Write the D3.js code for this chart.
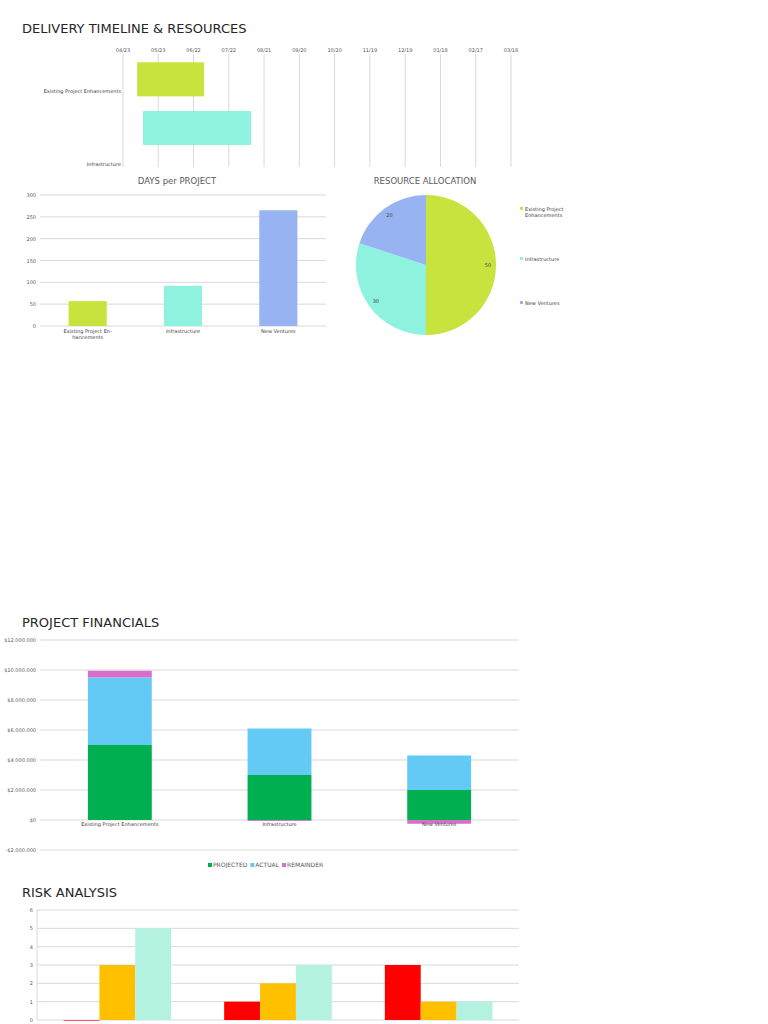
<!DOCTYPE html>
<html lang="en">
<head>
<meta charset="UTF-8">
<title>Delivery Timeline & Resources</title>
<script src="https://d3js.org/d3.v7.min.js"></script>
<style>
  body { margin: 0; background: #fff; font-family: "DejaVu Sans", sans-serif; }
  svg text { font-family: "DejaVu Sans", sans-serif; }
  .grid line { stroke: #d9d9d9; }
  .tick text { fill: #595959; font-size: 5px; }
  .hdr { font-size: 13px; fill: #262626; }
  .sub { font-size: 8.5px; fill: #595959; }
</style>
</head>
<body>
<svg id="page" width="768" height="1024"></svg>
<script>
// ---- data ----
const projects = ["Existing Project Enhancements", "Infrastructure", "New Ventures"];
const projColors = ["#c9e33e", "#8ff2de", "#97b3f2"];
const ganttStart = ["2023-05-05", "2023-05-10"];
const ganttEnd = ["2023-07-01", "2023-08-10"];
const ganttTicks = ["2023-04-23","2023-05-23","2023-06-22","2023-07-22","2023-08-21","2023-09-20",
                    "2023-10-20","2023-11-19","2023-12-19","2024-01-18","2024-02-17","2024-03-18"];
const days = [57, 92, 265];
const resources = [50, 30, 20];
const finSeries = ["PROJECTED", "ACTUAL", "REMAINDER"];
const finColors = ["#00b050", "#63caf5", "#d86ecc"];
const projected = [5000000, 3000000, 2000000];
const actual = [4500000, 3100000, 2300000];
const remainder = [450000, -60000, -250000];
const riskSeries = ["HIGH", "MEDIUM", "LOW"];
const riskColors = ["#ff0000", "#ffc000", "#b3f2e0"];
const riskHigh = [0, 1, 3];
const riskMed = [3, 2, 1];
const riskLow = [5, 3, 1];

const svg = d3.select("#page");
const fmtMoney = d => (d < 0 ? "-$" : "$") + d3.format(",")(Math.abs(d)).replace(/,/g, ".");

function hgrid(g, y, x0, x1, ticks, fmt) {
  g.append("g").attr("class", "grid").selectAll("line").data(ticks).join("line")
    .attr("x1", x0).attr("x2", x1).attr("y1", d => y(d)).attr("y2", d => y(d));
  g.append("g").attr("transform", `translate(${x0},0)`)
    .call(d3.axisLeft(y).tickValues(ticks).tickSize(0).tickPadding(4).tickFormat(fmt))
    .call(a => a.select(".domain").remove());
}

svg.append("text").attr("class", "hdr").attr("x", 22).attr("y", 33).text("DELIVERY TIMELINE & RESOURCES");

// ---- gantt ----
const parse = d3.timeParse("%Y-%m-%d");
const gx = d3.scaleTime().domain([parse(ganttTicks[0]), parse(ganttTicks[11])]).range([123, 511]);
const gy = d3.scaleBand().domain(projects).range([55, 201]).paddingInner(0.3).paddingOuter(0.15);
const gantt = svg.append("g");
gantt.append("defs").append("clipPath").attr("id", "gclip")
  .append("rect").attr("x", 0).attr("y", 0).attr("width", 768).attr("height", 167);
const gg = gantt.append("g").attr("clip-path", "url(#gclip)");
gg.append("g").attr("class", "grid").selectAll("line").data(ganttTicks).join("line")
  .attr("x1", d => gx(parse(d))).attr("x2", d => gx(parse(d))).attr("y1", 54).attr("y2", 167);
gg.selectAll("rect.bar").data(ganttStart).join("rect").attr("class", "bar")
  .attr("x", d => gx(parse(d))).attr("y", (d, i) => gy(projects[i]))
  .attr("width", (d, i) => gx(parse(ganttEnd[i])) - gx(parse(d)))
  .attr("height", gy.bandwidth()).attr("fill", (d, i) => projColors[i]);
gantt.selectAll("text.tk").data(ganttTicks).join("text").attr("class", "tk")
  .attr("x", d => gx(parse(d))).attr("y", 52).attr("text-anchor", "middle")
  .attr("font-size", 5).attr("fill", "#595959").text(d => d3.timeFormat("%m/%d")(parse(d)));
gantt.selectAll("text.lb").data(projects.slice(0, 2)).join("text").attr("class", "lb")
  .attr("x", 121).attr("y", (d, i) => i === 0 ? 93 : 166).attr("text-anchor", "end")
  .attr("font-size", 5).attr("fill", "#404040").text(d => d);

// ---- days per project ----
const dx = d3.scaleBand().domain(projects).range([40, 326]).paddingInner(0.6).paddingOuter(0.3);
const dy = d3.scaleLinear().domain([0, 300]).range([326, 195]);
const dg = svg.append("g");
dg.append("text").attr("class", "sub").attr("x", 177).attr("y", 184).attr("text-anchor", "middle").text("DAYS per PROJECT");
hgrid(dg, dy, 40, 326, d3.range(0, 301, 50), d3.format("d"));
dg.selectAll("rect").data(days).join("rect")
  .attr("x", (d, i) => dx(projects[i])).attr("y", d => dy(d))
  .attr("width", dx.bandwidth()).attr("height", d => dy(0) - dy(d)).attr("fill", (d, i) => projColors[i]);
const dlab = [["Existing Project En-", "hancements"], ["Infrastructure"], ["New Ventures"]];
dlab.forEach((l, i) => l.forEach((t, j) => dg.append("text")
  .attr("x", dx(projects[i]) + dx.bandwidth() / 2).attr("y", 333 + j * 6)
  .attr("text-anchor", "middle").attr("font-size", 5).attr("fill", "#404040").text(t)));

// ---- resource allocation ----
const pg = svg.append("g").attr("transform", "translate(426,265)");
svg.append("text").attr("class", "sub").attr("x", 425).attr("y", 184).attr("text-anchor", "middle").text("RESOURCE ALLOCATION");
const arcs = d3.pie().sort(null)(resources);
const arc = d3.arc().innerRadius(0).outerRadius(70);
pg.selectAll("path").data(arcs).join("path").attr("d", arc).attr("fill", (d, i) => projColors[i]);
const la = d3.arc().innerRadius(62).outerRadius(62);
pg.selectAll("text").data(arcs).join("text")
  .attr("transform", d => `translate(${la.centroid(d)})`).attr("text-anchor", "middle").attr("dy", 2)
  .attr("font-size", 5).attr("fill", "#404040").text(d => d.data);
const legY = [211, 261, 305];
const pleg = [["Existing Project", "Enhancements"], ["Infrastructure"], ["New Ventures"]];
pleg.forEach((l, i) => {
  svg.append("rect").attr("x", 520).attr("y", legY[i] - 4).attr("width", 3).attr("height", 3).attr("fill", projColors[i]);
  l.forEach((t, j) => svg.append("text").attr("x", 525).attr("y", legY[i] + j * 6)
    .attr("font-size", 5).attr("fill", "#404040").text(t));
});

// ---- project financials ----
svg.append("text").attr("class", "hdr").attr("x", 22).attr("y", 627).text("PROJECT FINANCIALS");
const fx = d3.scaleBand().domain(projects).range([40, 519]).paddingInner(0.6).paddingOuter(0.3);
const fy = d3.scaleLinear().domain([-2000000, 12000000]).range([850, 640]);
const fg = svg.append("g");
hgrid(fg, fy, 40, 519, d3.range(-2000000, 12000001, 2000000), fmtMoney);
const finVals = [projected, actual, remainder];
projects.forEach((p, i) => {
  let top = 0;
  finVals.forEach((s, k) => {
    const v = s[i];
    const y0 = v >= 0 ? top : 0, y1 = v >= 0 ? top + v : v;
    if (v >= 0) top += v;
    fg.append("rect").attr("x", fx(p)).attr("width", fx.bandwidth())
      .attr("y", fy(y1 > y0 ? y1 : y0)).attr("height", Math.abs(fy(y0) - fy(y1))).attr("fill", finColors[k]);
  });
  fg.append("text").attr("x", fx(p) + fx.bandwidth() / 2).attr("y", 826).attr("text-anchor", "middle")
    .attr("font-size", 5).attr("fill", "#404040").text(p);
});
const fl = svg.append("g").attr("transform", "translate(208,867)");
let lx = 0;
finSeries.forEach((s, k) => {
  fl.append("rect").attr("x", lx).attr("y", -4).attr("width", 4).attr("height", 4).attr("fill", finColors[k]);
  const t = fl.append("text").attr("x", lx + 5).attr("y", 0).attr("font-size", 6).attr("fill", "#595959").text(s);
  lx += 5 + t.node().getComputedTextLength() + 3;
});

// ---- risk analysis ----
svg.append("text").attr("class", "hdr").attr("x", 22).attr("y", 897).text("RISK ANALYSIS");
const rx = d3.scaleBand().domain(projects).range([37, 519]).paddingInner(0.33).paddingOuter(0.165);
const rsub = d3.scaleBand().domain(riskSeries).range([0, rx.bandwidth()]);
const ry = d3.scaleLinear().domain([0, 6]).range([1020, 910]);
const rg = svg.append("g");
hgrid(rg, ry, 37, 519, d3.range(0, 7), d3.format("d"));
rg.append("line").attr("x1", 37).attr("x2", 37).attr("y1", 910).attr("y2", 1020).attr("stroke", "#d9d9d9");
const riskVals = [riskHigh, riskMed, riskLow];
projects.forEach((p, i) => riskVals.forEach((s, k) => {
  rg.append("rect").attr("x", rx(p) + rsub(riskSeries[k])).attr("width", rsub.bandwidth())
    .attr("y", ry(s[i])).attr("height", Math.max(ry(0) - ry(s[i]), s[i] === 0 ? 0.6 : 0)).attr("fill", riskColors[k]);
}));
</script>
</body>
</html>
